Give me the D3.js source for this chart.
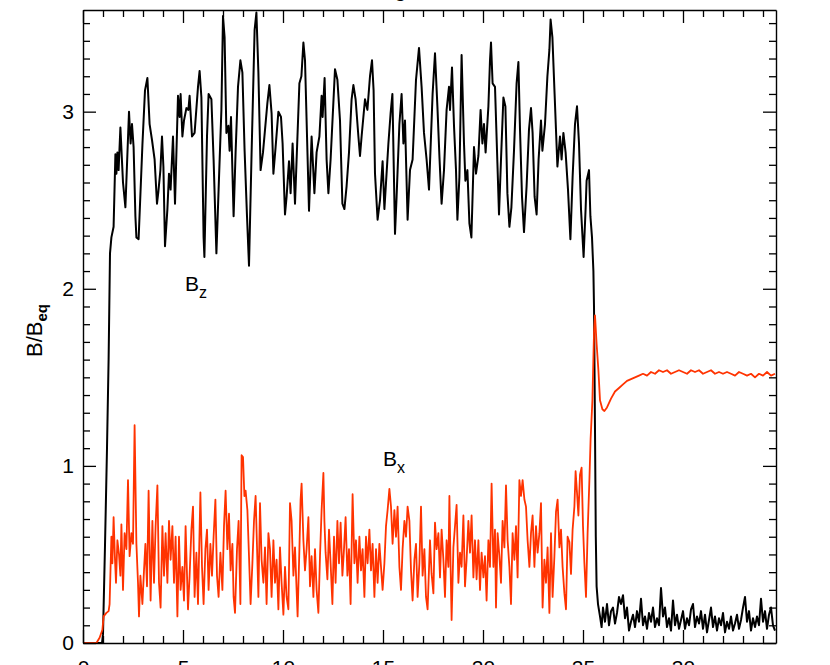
<!DOCTYPE html>
<html>
<head>
<meta charset="utf-8">
<script src="https://cdn.jsdelivr.net/npm/d3@7"></script>
<style>
  body { margin: 0; background: #fff; overflow: hidden; }
  text { font-family: "Liberation Sans", Arial, sans-serif; fill: #000; }
</style>
</head>
<body>
<div id="chart"></div>
<script>
// Tick values
var xMajorTicks = [0, 5, 10, 15, 20, 25, 30];
var yMajorTicks = [0, 1, 2, 3];

// Bz (black), [x, B/Beq]
var bzGrowth = [[0, 0], [0.95, 0], [1.0, 0.05], [1.1, 0.55], [1.2, 1.1], [1.28, 1.6], [1.35, 2.2], [1.42, 2.29], [1.53, 2.35]];
var bzSaturated = [
  [1.62, 2.76], [1.67, 2.65], [1.72, 2.77], [1.78, 2.67], [1.87, 2.91], [2.0, 2.6], [2.12, 2.46], [2.3, 3.0], [2.38, 2.82],
  [2.45, 2.93], [2.53, 2.8], [2.62, 2.41], [2.67, 2.29], [2.78, 2.28], [2.97, 2.81], [3.1, 3.12], [3.22, 3.19], [3.33, 2.93],
  [3.45, 2.84], [3.58, 2.73], [3.7, 2.48], [3.77, 2.55], [3.87, 2.67], [3.95, 2.86], [4.02, 2.69], [4.1, 2.24], [4.22, 2.45],
  [4.3, 2.65], [4.38, 2.56], [4.5, 2.86], [4.6, 2.48], [4.75, 3.09], [4.83, 2.97], [4.88, 3.1], [4.97, 2.86], [5.05, 2.95],
  [5.17, 3.02], [5.27, 3.01], [5.33, 3.09], [5.45, 2.86], [5.58, 2.88], [5.75, 3.14], [5.83, 3.23], [5.92, 3.08], [6.03, 2.29],
  [6.07, 2.18], [6.2, 2.86], [6.28, 3.1], [6.42, 3.07], [6.53, 2.73], [6.67, 2.2], [6.78, 2.56], [6.92, 3.01], [7.0, 3.54],
  [7.08, 3.42], [7.17, 2.88], [7.27, 2.92], [7.33, 2.78], [7.4, 2.97], [7.53, 2.41], [7.63, 2.77], [7.75, 3.14], [7.87, 3.29],
  [7.97, 3.22], [8.08, 2.78], [8.2, 2.41], [8.3, 2.13], [8.43, 2.77], [8.58, 3.46], [8.67, 3.56], [8.77, 3.22], [8.88, 2.67],
  [9.0, 2.77], [9.22, 3.05], [9.32, 3.15], [9.43, 2.99], [9.52, 2.65], [9.63, 2.8], [9.77, 3.0], [9.9, 2.97], [9.98, 2.82],
  [10.1, 2.42], [10.18, 2.52], [10.3, 2.72], [10.38, 2.54], [10.48, 2.82], [10.6, 2.48], [10.82, 3.16], [10.92, 3.2],
  [11.02, 3.39], [11.1, 3.29], [11.3, 2.44], [11.43, 2.86], [11.57, 2.54], [11.68, 2.77], [11.82, 2.86], [11.93, 3.09],
  [11.98, 2.97], [12.08, 3.19], [12.18, 2.73], [12.27, 2.54], [12.38, 2.73], [12.6, 3.24], [12.72, 3.18], [12.85, 2.95],
  [12.97, 2.48], [13.07, 2.45], [13.18, 2.58], [13.3, 2.77], [13.43, 3.07], [13.52, 3.15], [13.63, 3.07], [13.77, 2.86],
  [13.85, 2.75], [13.93, 2.86], [14.1, 3.07], [14.22, 3.01], [14.35, 3.2], [14.45, 3.29], [14.53, 3.12], [14.6, 2.65],
  [14.73, 2.39], [14.85, 2.5], [14.98, 2.72], [15.07, 2.45], [15.27, 2.82], [15.38, 2.99], [15.47, 3.1], [15.6, 2.31],
  [15.68, 2.52], [15.82, 2.93], [15.93, 3.1], [16.02, 2.82], [16.1, 2.95], [16.23, 2.39], [16.35, 2.67], [16.48, 2.73],
  [16.65, 3.18], [16.8, 3.36], [16.93, 3.14], [17.05, 2.88], [17.18, 2.73], [17.3, 2.56], [17.48, 3.1], [17.6, 3.33],
  [17.72, 3.03], [17.82, 2.75], [17.93, 2.48], [18.05, 2.67], [18.18, 3.01], [18.3, 3.14], [18.35, 3.01], [18.45, 3.25],
  [18.55, 2.92], [18.65, 2.67], [18.72, 2.39], [18.82, 2.63], [18.93, 3.32], [19.05, 2.82], [19.12, 2.61], [19.22, 2.67],
  [19.32, 2.37], [19.42, 2.29], [19.55, 2.8], [19.65, 2.65], [19.77, 2.75], [19.88, 3.01], [19.97, 2.82], [20.05, 2.93],
  [20.13, 2.77], [20.27, 3.03], [20.35, 3.29], [20.4, 3.39], [20.48, 3.16], [20.6, 3.14], [20.72, 2.71], [20.8, 2.42],
  [20.9, 2.73], [21.02, 3.08], [21.12, 3.03], [21.22, 2.54], [21.32, 2.35], [21.42, 2.46], [21.55, 2.78], [21.68, 3.16],
  [21.77, 3.28], [21.85, 2.9], [21.95, 2.52], [22.05, 2.32], [22.18, 2.58], [22.3, 2.9], [22.4, 3.02], [22.48, 2.88],
  [22.58, 2.52], [22.68, 2.42], [22.78, 2.73], [22.9, 2.95], [22.97, 2.78], [23.1, 2.93], [23.22, 3.2], [23.32, 3.35],
  [23.38, 3.52], [23.47, 3.42], [23.58, 3.1], [23.72, 2.69], [23.85, 2.86], [23.93, 2.73], [24.02, 2.88], [24.13, 2.77],
  [24.25, 2.56], [24.37, 2.28], [24.48, 2.63], [24.6, 2.93], [24.7, 3.03], [24.8, 2.82], [24.9, 2.45], [25.03, 2.18],
  [25.13, 2.45], [25.18, 2.61], [25.3, 2.67], [25.37, 2.41], [25.45, 2.29], [25.52, 2.1]
];
var bzDecay = [[25.55, 1.9], [25.6, 1.2], [25.64, 0.6], [25.68, 0.32], [25.75, 0.22], [25.85, 0.15], [25.93, 0.09]];
var bzTail = [
  [26.0, 0.2], [26.1, 0.12], [26.2, 0.22], [26.3, 0.1], [26.4, 0.18], [26.5, 0.2], [26.6, 0.11], [26.7, 0.17], [26.8, 0.26],
  [26.9, 0.22], [27.0, 0.27], [27.1, 0.14], [27.2, 0.2], [27.3, 0.07], [27.4, 0.12], [27.5, 0.16], [27.6, 0.09], [27.7, 0.18],
  [27.8, 0.12], [27.9, 0.25], [28.0, 0.1], [28.1, 0.15], [28.2, 0.08], [28.3, 0.17], [28.4, 0.12], [28.5, 0.2], [28.6, 0.09],
  [28.7, 0.14], [28.8, 0.1], [28.9, 0.31], [29.0, 0.15], [29.1, 0.2], [29.2, 0.09], [29.3, 0.14], [29.4, 0.07], [29.5, 0.24],
  [29.6, 0.1], [29.7, 0.16], [29.8, 0.08], [29.9, 0.13], [30.0, 0.18], [30.1, 0.08], [30.2, 0.14], [30.3, 0.1], [30.4, 0.19],
  [30.5, 0.22], [30.6, 0.09], [30.7, 0.15], [30.8, 0.11], [30.9, 0.18], [31.0, 0.08], [31.1, 0.16], [31.2, 0.06], [31.3, 0.13],
  [31.4, 0.2], [31.5, 0.09], [31.6, 0.15], [31.7, 0.07], [31.8, 0.14], [31.9, 0.1], [32.0, 0.17], [32.1, 0.06], [32.2, 0.12],
  [32.3, 0.08], [32.4, 0.15], [32.5, 0.07], [32.6, 0.11], [32.7, 0.16], [32.8, 0.08], [32.9, 0.13], [33.0, 0.2], [33.1, 0.26],
  [33.2, 0.12], [33.3, 0.18], [33.4, 0.07], [33.5, 0.14], [33.6, 0.09], [33.7, 0.15], [33.8, 0.1], [33.9, 0.25], [34.0, 0.12],
  [34.1, 0.18], [34.2, 0.08], [34.3, 0.16], [34.4, 0.2], [34.5, 0.1], [34.6, 0.07]
];

// Bx (red)
var bxGrowth = [[0, 0], [0.67, 0], [0.83, 0.03], [0.97, 0.075], [1.03, 0.15], [1.17, 0.17], [1.28, 0.18], [1.33, 0.22]];
var bxTurbulent = [
  [1.42, 0.6], [1.47, 0.45], [1.53, 0.71], [1.6, 0.47], [1.65, 0.34], [1.72, 0.58], [1.8, 0.5], [1.87, 0.38], [1.92, 0.67],
  [2.0, 0.3], [2.08, 0.62], [2.17, 0.53], [2.25, 0.92], [2.33, 0.49], [2.42, 0.62], [2.5, 0.56], [2.58, 1.23], [2.67, 0.56],
  [2.75, 0.34], [2.8, 0.15], [2.87, 0.38], [2.97, 0.22], [3.05, 0.41], [3.12, 0.56], [3.2, 0.32], [3.28, 0.86], [3.38, 0.24],
  [3.47, 0.69], [3.55, 0.34], [3.63, 0.66], [3.72, 0.89], [3.8, 0.34], [3.88, 0.2], [3.97, 0.66], [4.05, 0.38], [4.13, 0.62],
  [4.22, 0.34], [4.3, 0.69], [4.38, 0.47], [4.47, 0.66], [4.55, 0.34], [4.63, 0.6], [4.72, 0.15], [4.8, 0.6], [4.88, 0.3],
  [4.97, 0.43], [5.05, 0.24], [5.13, 0.66], [5.25, 0.19], [5.33, 0.38], [5.42, 0.64], [5.5, 0.77], [5.58, 0.26], [5.67, 0.51],
  [5.75, 0.22], [5.87, 0.85], [5.95, 0.43], [6.03, 0.22], [6.12, 0.53], [6.2, 0.64], [6.28, 0.3], [6.37, 0.56], [6.45, 0.38],
  [6.53, 0.6], [6.62, 0.81], [6.7, 0.38], [6.78, 0.26], [6.87, 0.51], [6.97, 0.3], [7.05, 0.66], [7.13, 0.86], [7.22, 0.53],
  [7.3, 0.73], [7.38, 0.41], [7.47, 0.56], [7.53, 0.26], [7.6, 0.17], [7.7, 0.53], [7.78, 0.69], [7.87, 0.22], [7.93, 1.06],
  [8.0, 1.05], [8.07, 0.83], [8.13, 0.86], [8.22, 0.75], [8.3, 0.49], [8.38, 0.22], [8.47, 0.45], [8.55, 0.69], [8.63, 0.83],
  [8.77, 0.26], [8.85, 0.79], [8.93, 0.47], [9.02, 0.34], [9.1, 0.54], [9.18, 0.22], [9.27, 0.62], [9.35, 0.53], [9.43, 0.26],
  [9.52, 0.58], [9.6, 0.34], [9.68, 0.47], [9.77, 0.19], [9.85, 0.54], [9.93, 0.34], [10.02, 0.16], [10.1, 0.43], [10.18, 0.26],
  [10.27, 0.19], [10.35, 0.79], [10.43, 0.69], [10.52, 0.38], [10.6, 0.54], [10.68, 0.3], [10.73, 0.15], [10.82, 0.53],
  [10.88, 0.81], [10.93, 0.9], [11.02, 0.58], [11.1, 0.41], [11.18, 0.53], [11.27, 0.71], [11.35, 0.32], [11.43, 0.49],
  [11.52, 0.26], [11.6, 0.53], [11.68, 0.3], [11.77, 0.17], [11.85, 0.49], [11.93, 0.75], [12.02, 0.96], [12.07, 0.69],
  [12.13, 0.51], [12.22, 0.36], [12.3, 0.64], [12.38, 0.45], [12.47, 0.22], [12.55, 0.6], [12.63, 0.34], [12.72, 0.69],
  [12.8, 0.45], [12.88, 0.68], [12.97, 0.38], [13.05, 0.53], [13.13, 0.71], [13.22, 0.38], [13.3, 0.53], [13.38, 0.22],
  [13.48, 0.84], [13.57, 0.45], [13.65, 0.58], [13.73, 0.34], [13.82, 0.6], [13.9, 0.41], [13.98, 0.53], [14.07, 0.26],
  [14.15, 0.6], [14.23, 0.45], [14.32, 0.64], [14.4, 0.41], [14.48, 0.56], [14.57, 0.26], [14.65, 0.53], [14.73, 0.34],
  [14.82, 0.56], [14.9, 0.43], [14.98, 0.3], [15.07, 0.45], [15.15, 0.66], [15.23, 0.75], [15.32, 0.87], [15.4, 0.77],
  [15.48, 0.56], [15.57, 0.75], [15.65, 0.6], [15.73, 0.77], [15.82, 0.43], [15.9, 0.3], [15.98, 0.53], [16.07, 0.69],
  [16.15, 0.6], [16.23, 0.77], [16.32, 0.69], [16.4, 0.41], [16.48, 0.24], [16.57, 0.47], [16.65, 0.56], [16.73, 0.26],
  [16.82, 0.45], [16.9, 0.77], [16.98, 0.38], [17.07, 0.53], [17.15, 0.26], [17.23, 0.19], [17.35, 0.58], [17.43, 0.39],
  [17.52, 0.28], [17.6, 0.68], [17.68, 0.53], [17.77, 0.62], [17.85, 0.37], [17.93, 0.64], [18.02, 0.47], [18.1, 0.26],
  [18.18, 0.58], [18.27, 0.43], [18.32, 0.83], [18.38, 0.43], [18.43, 0.13], [18.52, 0.54], [18.6, 0.66], [18.68, 0.78],
  [18.77, 0.34], [18.85, 0.51], [18.93, 0.43], [19.02, 0.72], [19.1, 0.32], [19.18, 0.47], [19.27, 0.69], [19.35, 0.51],
  [19.43, 0.72], [19.52, 0.37], [19.6, 0.58], [19.68, 0.36], [19.77, 0.58], [19.85, 0.3], [19.93, 0.51], [20.02, 0.37],
  [20.1, 0.49], [20.18, 0.24], [20.27, 0.58], [20.35, 0.43], [20.43, 0.9], [20.52, 0.43], [20.6, 0.64], [20.65, 0.2],
  [20.73, 0.62], [20.82, 0.49], [20.9, 0.34], [20.98, 0.69], [21.07, 0.54], [21.15, 0.89], [21.23, 0.58], [21.32, 0.43],
  [21.4, 0.22], [21.48, 0.62], [21.57, 0.47], [21.65, 0.66], [21.73, 0.37], [21.82, 0.92], [21.9, 0.83], [21.98, 0.92],
  [22.07, 0.81], [22.15, 0.77], [22.23, 0.58], [22.32, 0.43], [22.4, 0.62], [22.48, 0.72], [22.57, 0.43], [22.65, 0.66],
  [22.73, 0.51], [22.82, 0.62], [22.9, 0.79], [22.98, 0.2], [23.07, 0.47], [23.15, 0.34], [23.23, 0.54], [23.32, 0.17],
  [23.4, 0.62], [23.48, 0.26], [23.57, 0.49], [23.65, 0.74], [23.73, 0.81], [23.82, 0.54], [23.9, 0.64], [23.98, 0.43],
  [24.07, 0.28], [24.15, 0.19], [24.23, 0.6], [24.32, 0.57], [24.4, 0.39], [24.48, 0.64], [24.57, 0.77], [24.63, 0.97],
  [24.7, 0.85], [24.77, 0.72], [24.85, 0.95], [24.93, 0.99], [25.0, 0.66], [25.07, 0.45], [25.15, 0.26], [25.23, 0.62],
  [25.32, 0.92], [25.38, 1.15], [25.47, 1.37], [25.55, 1.75], [25.6, 1.85], [25.68, 1.69], [25.77, 1.54], [25.85, 1.37],
  [25.97, 1.32], [26.07, 1.31]
];
var bxTail = [
  [26.2, 1.33], [26.4, 1.38], [26.6, 1.42], [26.8, 1.44], [27.0, 1.46], [27.2, 1.48], [27.4, 1.49], [27.6, 1.5], [27.8, 1.51],
  [28.0, 1.52], [28.2, 1.51], [28.4, 1.53], [28.6, 1.52], [28.8, 1.54], [29.0, 1.53], [29.2, 1.54], [29.4, 1.52], [29.6, 1.53],
  [29.8, 1.54], [30.0, 1.53], [30.2, 1.52], [30.4, 1.54], [30.6, 1.53], [30.8, 1.54], [31.0, 1.52], [31.2, 1.53], [31.4, 1.54],
  [31.6, 1.52], [31.8, 1.53], [32.0, 1.52], [32.2, 1.53], [32.4, 1.52], [32.6, 1.51], [32.8, 1.53], [33.0, 1.52], [33.2, 1.51],
  [33.4, 1.52], [33.6, 1.5], [33.8, 1.52], [34.0, 1.51], [34.2, 1.53], [34.4, 1.51], [34.6, 1.52]
];

var svgWidth = 830;
var svgHeight = 665;

var margin = {
  top: 10,
  right: 54,
  bottom: 22,
  left: 83
};

var width = svgWidth - margin.left - margin.right;
var height = svgHeight - margin.top - margin.bottom;

var svg = d3.select("#chart")
  .append("svg")
  .attr("width", svgWidth)
  .attr("height", svgHeight)
  .style("overflow", "visible");

var chartGroup = svg.append("g")
  .attr("transform", `translate(${margin.left}, ${margin.top})`);

// Scales
var xScale = d3.scaleLinear()
  .domain([0, 34.65])
  .range([0, width]);

var yScale = d3.scaleLinear()
  .domain([0, 3.574])
  .range([height, 0]);

var xMinorTicks = d3.range(0, 35, 1).filter(d => d % 5 !== 0);
var yMinorTicks = d3.range(1, 36).map(d => d / 10).filter(d => Math.abs(d - Math.round(d)) > 0.01);

// Lines (Bz first, Bx over it)
var line = d3.line()
  .x(d => xScale(d[0]))
  .y(d => yScale(d[1]));

var bz = bzGrowth.concat(bzSaturated, bzDecay, bzTail);
var bx = bxGrowth.concat(bxTurbulent, bxTail);

chartGroup.append("path")
  .datum(bz)
  .attr("d", line)
  .attr("fill", "none")
  .attr("stroke", "#000")
  .attr("stroke-width", 2)
  .attr("stroke-linejoin", "round");

chartGroup.append("path")
  .datum(bx)
  .attr("d", line)
  .attr("fill", "none")
  .attr("stroke", "#ff3300")
  .attr("stroke-width", 1.8)
  .attr("stroke-linejoin", "round");

// Axes, ticks pointing inward on all four sides
function styleAxis(g) {
  g.selectAll("path.domain").attr("stroke", "#000").attr("stroke-width", 1.4);
  g.selectAll(".tick line").attr("stroke", "#000").attr("stroke-width", 1.3);
  g.selectAll("text").style("font-size", "21px").attr("fill", "#000");
}

chartGroup.append("g")
  .attr("transform", `translate(0, ${height})`)
  .call(d3.axisBottom(xScale).tickValues(xMajorTicks).tickSize(-13).tickSizeOuter(0).tickPadding(17).tickFormat(d3.format("d")))
  .call(styleAxis);
chartGroup.append("g")
  .attr("transform", `translate(0, ${height})`)
  .call(d3.axisBottom(xScale).tickValues(xMinorTicks).tickSize(-7).tickFormat(""))
  .call(g => g.select(".domain").remove())
  .call(styleAxis);

chartGroup.append("g")
  .call(d3.axisTop(xScale).tickValues(xMajorTicks).tickSize(-13).tickSizeOuter(0).tickFormat(""))
  .call(styleAxis);
chartGroup.append("g")
  .call(d3.axisTop(xScale).tickValues(xMinorTicks).tickSize(-7).tickFormat(""))
  .call(g => g.select(".domain").remove())
  .call(styleAxis);

chartGroup.append("g")
  .call(d3.axisLeft(yScale).tickValues(yMajorTicks).tickSize(-13).tickSizeOuter(0).tickPadding(9).tickFormat(d3.format("d")))
  .call(styleAxis);
chartGroup.append("g")
  .call(d3.axisLeft(yScale).tickValues(yMinorTicks).tickSize(-7).tickFormat(""))
  .call(g => g.select(".domain").remove())
  .call(styleAxis);

chartGroup.append("g")
  .attr("transform", `translate(${width}, 0)`)
  .call(d3.axisRight(yScale).tickValues(yMajorTicks).tickSize(-13).tickSizeOuter(0).tickFormat(""))
  .call(styleAxis);
chartGroup.append("g")
  .attr("transform", `translate(${width}, 0)`)
  .call(d3.axisRight(yScale).tickValues(yMinorTicks).tickSize(-7).tickFormat(""))
  .call(g => g.select(".domain").remove())
  .call(styleAxis);

// Title, mostly above the window
svg.append("text")
  .attr("x", 430)
  .attr("y", -3)
  .attr("text-anchor", "middle")
  .style("font-size", "21px")
  .text("Magnetic field");

// Y axis label
var yLabel = svg.append("text")
  .attr("transform", "translate(42, 357) rotate(-90)")
  .style("font-size", "22px");
yLabel.append("tspan").text("B/B");
yLabel.append("tspan").attr("dy", 5).style("font-size", "15px").style("font-weight", "bold").text("eq");

// Curve labels
var bzLabel = svg.append("text")
  .attr("x", xScale(5.1) + margin.left)
  .attr("y", yScale(2.0) + margin.top + 2)
  .style("font-size", "21px");
bzLabel.append("tspan").text("B");
bzLabel.append("tspan").attr("dy", 7).style("font-size", "16px").text("z");

var bxLabel = svg.append("text")
  .attr("x", xScale(15.0) + margin.left)
  .attr("y", yScale(1.0) + margin.top)
  .style("font-size", "21px");
bxLabel.append("tspan").text("B");
bxLabel.append("tspan").attr("dy", 7).style("font-size", "16px").text("x");
</script>
</body>
</html>
